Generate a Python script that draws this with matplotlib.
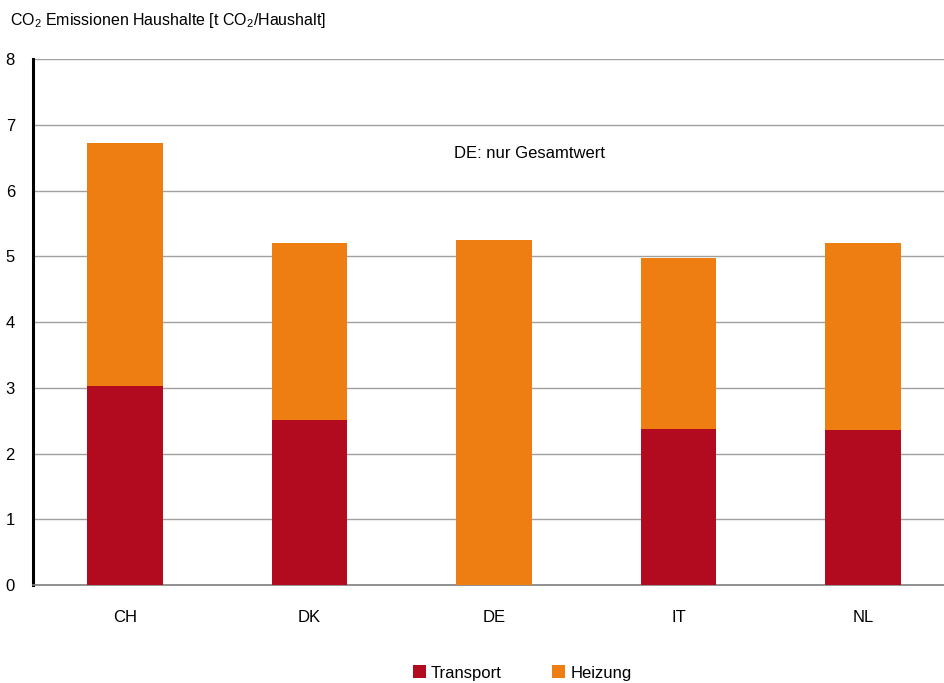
import matplotlib.pyplot as plt
import numpy as np

plt.rcParams['font.family'] = ['Liberation Sans Narrow', 'Liberation Sans', 'DejaVu Sans']
plt.rcParams['mathtext.fontset'] = 'custom'
plt.rcParams['mathtext.rm'] = 'Liberation Sans'

laender = ['CH', 'DK', 'DE', 'IT', 'NL']
transport = [3.03, 2.51, 0.0, 2.37, 2.36]
heizung = [3.69, 2.69, 5.25, 2.60, 2.84]

rot = '#B20A1E'
orange = '#EE7D12'

fig = plt.figure(figsize=(9.44, 6.83), dpi=100)
ax = fig.add_axes([33/944, 1-585/683, 1-33/944, (585-59)/683])

x = np.arange(len(laender))
w = 0.41
ax.bar(x, transport, w, color=rot, label='Transport', zorder=3)
ax.bar(x, heizung, w, bottom=transport, color=orange, label='Heizung', zorder=3)

ax.set_ylim(0, 8)
ax.set_xlim(-0.5, 4.44)
ax.set_yticks(range(0, 9))
ax.set_xticks(x)
ax.set_xticklabels(laender)
ax.yaxis.grid(True, color='#a0a0a0', linewidth=1, zorder=0)
ax.tick_params(axis='both', length=0, labelsize=12)
ax.tick_params(axis='x', pad=18)
ax.tick_params(axis='y', pad=13)
for s in ['top', 'right']:
    ax.spines[s].set_visible(False)
ax.spines['left'].set_linewidth(2.2)
ax.spines['left'].set_color('black')
ax.spines['bottom'].set_color('#808080')
ax.spines['bottom'].set_linewidth(1.2)

ax.text(2.19, 6.57, 'DE: nur Gesamtwert', ha='center', va='center', fontsize=12)

fig.text(10/944, 1-20/683, 'CO$_2$ Emissionen Haushalte [t CO$_2$/Haushalt]',
         fontsize=11.5, va='center', ha='left')

fig.legend(loc='center', bbox_to_anchor=(522/944, 1-673/683), ncol=2, frameon=False,
           fontsize=12, handlelength=0.8, handleheight=0.8, columnspacing=3,
           handletextpad=0.3)

fig.savefig('out.png', dpi=100)
